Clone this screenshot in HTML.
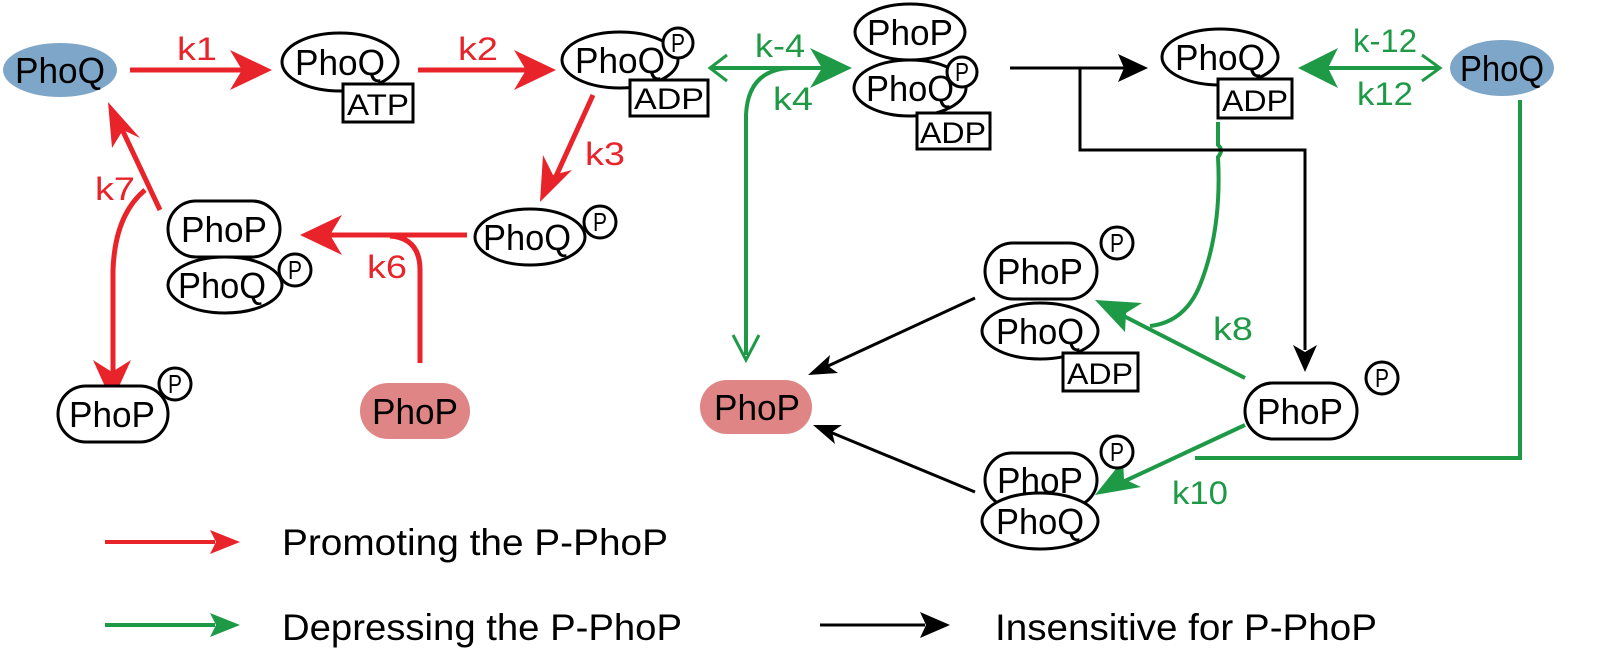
<!DOCTYPE html>
<html><head><meta charset="utf-8"><style>
html,body{margin:0;padding:0;background:#fff;}
svg{display:block;}
text{font-family:"Liberation Sans",Arial,sans-serif;}
.n{font-size:36px;fill:#000;text-anchor:middle;}
.r{font-size:32px;fill:#e8242a;text-anchor:middle;}
.g{font-size:32px;fill:#1e9a47;text-anchor:middle;}
.lg{font-size:37px;fill:#000;}
</style></head><body>
<svg width="1600" height="668" viewBox="0 0 1600 668" xmlns="http://www.w3.org/2000/svg">
<g fill="none" stroke-linecap="butt">
<g stroke="#e8242a" stroke-width="5">
<line x1="130" y1="70" x2="245" y2="70"/>
<line x1="418" y1="70" x2="530" y2="70"/>
<line x1="593" y1="95" x2="552" y2="185"/>
<line x1="467" y1="235" x2="320" y2="235"/>
<path d="M420 363 V270 Q420 238 390 236"/>
<line x1="160" y1="210" x2="120" y2="125"/>
<path d="M145 190 Q115 215 113 270 V380"/>
</g>
<g stroke="#1e9a47" stroke-width="4">
<line x1="712" y1="68" x2="830" y2="68"/>
<path d="M790 68 Q748 70 746 115 V355"/>
<line x1="1310" y1="68" x2="1438" y2="68"/>
<path d="M1520 100 V458 H1195"/>
<path d="M1218 122 V145 Q1224 150 1218 157 Q1222 230 1200 285 Q1185 322 1150 326"/>
<line x1="1245" y1="378" x2="1112" y2="310"/>
<line x1="1245" y1="425" x2="1112" y2="487"/>
<line x1="105" y1="625" x2="215" y2="625"/>
</g>
<g stroke="#e8242a" stroke-width="4"><line x1="105" y1="542" x2="215" y2="542"/></g>
<g stroke="#1e9a47" stroke-width="3">
<polyline points="727,55 710,68 727,81"/>
<polyline points="733,335 746,360 759,335"/>
<polyline points="1422,55 1440,68 1422,81"/>
</g>
<g stroke="#000" stroke-width="3">
<line x1="1010" y1="68" x2="1130" y2="68"/>
<path d="M1080 68 V150 H1305 V350"/>
<line x1="975" y1="298" x2="828" y2="366"/>
<line x1="975" y1="492" x2="830" y2="432"/>
<line x1="820" y1="625" x2="925" y2="625"/>
</g>
</g>
<g fill="#e8242a">
<polygon points="272,70 230,50 242,70 230,90"/>
<polygon points="556,70 514,50 526,70 514,90"/>
<polygon points="540,202 543,155 553,175 572,170"/>
<polygon points="300,235 342,215 330,235 342,255"/>
<polygon points="108,102 140,138 123,130 112,148"/>
<polygon points="112,402 93,360 112,372 131,360"/>
<polygon points="240,542 210,530 216,542 210,554"/>
</g>
<g fill="#1e9a47">
<polygon points="852,68 810,48 822,68 810,88"/>
<polygon points="1298,68 1338,48 1328,68 1338,88"/>
<polygon points="1095,300 1142,303 1126,313 1125,332"/>
<polygon points="1095,495 1123,460 1124,479 1141,487"/>
<polygon points="240,625 210,613 216,625 210,637"/>
</g>
<g fill="#000">
<polygon points="1148,68 1118,54 1124,68 1118,82"/>
<polygon points="1305,372 1293,345 1305,352 1317,345"/>
<polygon points="808,375 830,355 828,366 838,373"/>
<polygon points="813,425 842,425 832,432 835,444"/>
<polygon points="950,625 920,612 926,625 920,638"/>
</g>
<g stroke="#000" stroke-width="3" fill="#fff">
<ellipse cx="340" cy="62" rx="58" ry="29"/>
<rect x="343" y="84" width="70" height="38"/>
<ellipse cx="620" cy="60" rx="58" ry="28"/>
<circle cx="678" cy="43" r="15"/>
<rect x="630" y="80" width="78" height="36"/>
<ellipse cx="910" cy="32" rx="55" ry="28"/>
<ellipse cx="910" cy="88" rx="56" ry="28"/>
<circle cx="962" cy="72" r="15"/>
<rect x="917" y="113" width="73" height="36"/>
<ellipse cx="1220" cy="57" rx="58" ry="28"/>
<rect x="1218" y="79" width="74" height="39"/>
<ellipse cx="530" cy="237" rx="55" ry="28"/>
<circle cx="600" cy="222" r="16"/>
<rect x="168" y="201" width="112" height="56" rx="28"/>
<ellipse cx="225" cy="285" rx="57" ry="28"/>
<circle cx="295" cy="270" r="16"/>
<rect x="58" y="386" width="110" height="56" rx="28"/>
<circle cx="175" cy="384" r="16"/>
<rect x="985" y="243" width="112" height="56" rx="28"/>
<circle cx="1117" cy="243" r="16"/>
<ellipse cx="1040" cy="331" rx="58" ry="28"/>
<rect x="1063" y="353" width="75" height="38"/>
<rect x="1245" y="383" width="112" height="56" rx="28"/>
<circle cx="1382" cy="378" r="16"/>
<rect x="985" y="453" width="112" height="54" rx="27"/>
<circle cx="1117" cy="452" r="16"/>
<ellipse cx="1040" cy="521" rx="58" ry="28"/>
</g>
<ellipse cx="60" cy="70" rx="57" ry="27" fill="#7ea6c8"/>
<ellipse cx="1502" cy="68" rx="52" ry="28" fill="#7ea6c8"/>
<rect x="360" y="383" width="110" height="56" rx="28" fill="#df8585"/>
<rect x="700" y="380" width="112" height="54" rx="27" fill="#df8585"/>
<g class="n">
<text x="60" y="83" textLength="90" lengthAdjust="spacingAndGlyphs">PhoQ</text>
<text x="340" y="75" textLength="90" lengthAdjust="spacingAndGlyphs">PhoQ</text>
<text x="378" y="115" font-size="30" textLength="62" lengthAdjust="spacingAndGlyphs">ATP</text>
<text x="620" y="73" textLength="90" lengthAdjust="spacingAndGlyphs">PhoQ</text>
<text x="678" y="52" font-size="26" textLength="14" lengthAdjust="spacingAndGlyphs">P</text>
<text x="669" y="109" font-size="30" textLength="70" lengthAdjust="spacingAndGlyphs">ADP</text>
<text x="910" y="45" textLength="86" lengthAdjust="spacingAndGlyphs">PhoP</text>
<text x="910" y="101" textLength="88" lengthAdjust="spacingAndGlyphs">PhoQ</text>
<text x="962" y="81" font-size="26" textLength="14" lengthAdjust="spacingAndGlyphs">P</text>
<text x="953" y="143" font-size="30" textLength="66" lengthAdjust="spacingAndGlyphs">ADP</text>
<text x="1220" y="70" textLength="90" lengthAdjust="spacingAndGlyphs">PhoQ</text>
<text x="1255" y="111" font-size="30" textLength="66" lengthAdjust="spacingAndGlyphs">ADP</text>
<text x="1502" y="81" textLength="84" lengthAdjust="spacingAndGlyphs">PhoQ</text>
<text x="527" y="250" textLength="88" lengthAdjust="spacingAndGlyphs">PhoQ</text>
<text x="600" y="231" font-size="26" textLength="14" lengthAdjust="spacingAndGlyphs">P</text>
<text x="224" y="242" textLength="86" lengthAdjust="spacingAndGlyphs">PhoP</text>
<text x="222" y="298" textLength="88" lengthAdjust="spacingAndGlyphs">PhoQ</text>
<text x="295" y="279" font-size="26" textLength="14" lengthAdjust="spacingAndGlyphs">P</text>
<text x="112" y="427" textLength="86" lengthAdjust="spacingAndGlyphs">PhoP</text>
<text x="175" y="393" font-size="26" textLength="14" lengthAdjust="spacingAndGlyphs">P</text>
<text x="415" y="424" textLength="86" lengthAdjust="spacingAndGlyphs">PhoP</text>
<text x="757" y="420" textLength="86" lengthAdjust="spacingAndGlyphs">PhoP</text>
<text x="1040" y="284" textLength="86" lengthAdjust="spacingAndGlyphs">PhoP</text>
<text x="1117" y="252" font-size="26" textLength="14" lengthAdjust="spacingAndGlyphs">P</text>
<text x="1040" y="344" textLength="88" lengthAdjust="spacingAndGlyphs">PhoQ</text>
<text x="1100" y="384" font-size="30" textLength="66" lengthAdjust="spacingAndGlyphs">ADP</text>
<text x="1300" y="424" textLength="86" lengthAdjust="spacingAndGlyphs">PhoP</text>
<text x="1382" y="387" font-size="26" textLength="14" lengthAdjust="spacingAndGlyphs">P</text>
<text x="1040" y="493" textLength="86" lengthAdjust="spacingAndGlyphs">PhoP</text>
<text x="1117" y="461" font-size="26" textLength="14" lengthAdjust="spacingAndGlyphs">P</text>
<text x="1040" y="534" textLength="88" lengthAdjust="spacingAndGlyphs">PhoQ</text>
</g>
<g class="r">
<text x="197" y="60" textLength="40" lengthAdjust="spacingAndGlyphs">k1</text>
<text x="478" y="60" textLength="40" lengthAdjust="spacingAndGlyphs">k2</text>
<text x="605" y="165" textLength="40" lengthAdjust="spacingAndGlyphs">k3</text>
<text x="387" y="278" textLength="40" lengthAdjust="spacingAndGlyphs">k6</text>
<text x="115" y="200" textLength="40" lengthAdjust="spacingAndGlyphs">k7</text>
</g>
<g class="g">
<text x="780" y="57" textLength="50" lengthAdjust="spacingAndGlyphs">k-4</text>
<text x="793" y="110" textLength="40" lengthAdjust="spacingAndGlyphs">k4</text>
<text x="1385" y="52" textLength="64" lengthAdjust="spacingAndGlyphs">k-12</text>
<text x="1385" y="105" textLength="56" lengthAdjust="spacingAndGlyphs">k12</text>
<text x="1233" y="340" textLength="40" lengthAdjust="spacingAndGlyphs">k8</text>
<text x="1200" y="504" textLength="56" lengthAdjust="spacingAndGlyphs">k10</text>
</g>
<text class="lg" x="282" y="555" textLength="386" lengthAdjust="spacingAndGlyphs">Promoting the P-PhoP</text>
<text class="lg" x="282" y="640" textLength="400" lengthAdjust="spacingAndGlyphs">Depressing the P-PhoP</text>
<text class="lg" x="995" y="640" textLength="382" lengthAdjust="spacingAndGlyphs">Insensitive for P-PhoP</text>
</svg>
</body></html>
